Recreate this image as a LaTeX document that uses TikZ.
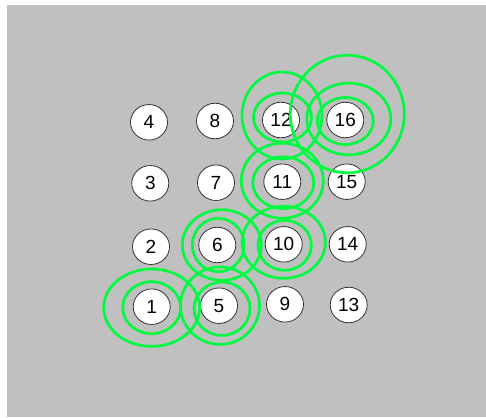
\documentclass[tikz,border=0pt]{standalone}
\usepackage{fontspec}
\setmainfont{Liberation Sans}
\usepackage{tikz}
\usetikzlibrary{shapes.geometric}
\definecolor{bggray}{RGB}{192,192,192}
\definecolor{ringgreen}{RGB}{0,250,64}
\tikzset{
  cell/.style={ellipse,draw=black!80,fill=white,line width=0.8pt,minimum width=37pt,minimum height=35.5pt,inner sep=0pt,font=\fontsize{19}{19}\selectfont},
  ring/.style={draw=ringgreen,line width=2.7pt},
}

\begin{document}
\begin{tikzpicture}[x=1pt,y=-1pt]
\useasboundingbox (0,0) rectangle (486,417);
\fill[bggray] (7,5) rectangle (486,417);
% grid of cells
\node[cell] (n1) at (151.7,306.7) {1};
\node[cell] (n2) at (151,246.7) {2};
\node[cell] (n3) at (150.3,183.3) {3};
\node[cell] (n4) at (149,122.3) {4};
\node[cell] (n5) at (219,305.7) {5};
\node[cell] (n6) at (217.3,245) {6};
\node[cell] (n7) at (216,182.7) {7};
\node[cell] (n8) at (215,121) {8};
\node[cell] (n9) at (285,304.3) {9};
\node[cell] (n10) at (283.7,244.3) {10};
\node[cell] (n11) at (282.3,181.7) {11};
\node[cell] (n12) at (281,120) {12};
\node[cell] (n13) at (348.7,305) {13};
\node[cell] (n14) at (347.7,244.3) {14};
\node[cell] (n15) at (346.7,181.7) {15};
\node[cell] (n16) at (345.3,120) {16};
% rings
\draw[ring] ([shift={(0,1)}]n1) ellipse [x radius=29pt, y radius=26pt];
\draw[ring] ([shift={(0,1)}]n1) ellipse [x radius=48pt, y radius=38.7pt];
\draw[ring] ([shift={(3,3)}]n5) ellipse [x radius=28pt, y radius=26.7pt];
\draw[ring] ([shift={(1,0)}]n5) ellipse [x radius=39.5pt, y radius=38.7pt];
\draw[ring] ([shift={(1,0)}]n6) ellipse [x radius=26pt, y radius=26.7pt];
\draw[ring] ([shift={(4.5,0)}]n6) ellipse [x radius=39.5pt, y radius=35.3pt];
\draw[ring] ([shift={(1,1)}]n10) ellipse [x radius=26.7pt, y radius=25pt];
\draw[ring] ([shift={(0,-2)}]n10) ellipse [x radius=41.7pt, y radius=36pt];
\draw[ring] ([shift={(1,1)}]n11) ellipse [x radius=30.5pt, y radius=25.8pt];
\draw[ring] ([shift={(0,-1)}]n11) ellipse [x radius=41pt, y radius=37.5pt];
\draw[ring] ([shift={(1.5,-2.5)}]n12) ellipse [x radius=29pt, y radius=24.5pt];
\draw[ring] ([shift={(1,-4.5)}]n12) ellipse [x radius=40pt, y radius=43.5pt];
\draw[ring] ([shift={(0,1)}]n16) ellipse [x radius=28pt, y radius=23.5pt];
\draw[ring] ([shift={(3.5,-1)}]n16) ellipse [x radius=42pt, y radius=35.8pt];
\draw[ring] ([shift={(2,-6)}]n16) ellipse [x radius=57pt, y radius=58.8pt];
\end{tikzpicture}
\end{document}
